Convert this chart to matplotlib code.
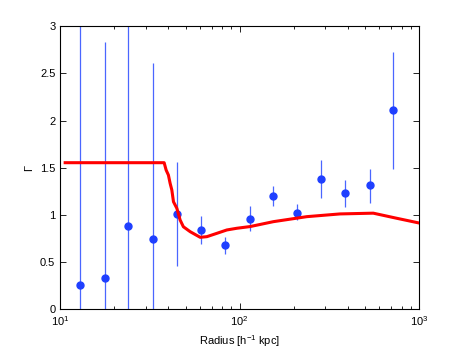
import numpy as np
import matplotlib
matplotlib.use('Agg')
import matplotlib.pyplot as plt
from matplotlib.ticker import LogLocator, NullFormatter

plt.rcParams['font.family'] = ['Liberation Sans', 'DejaVu Sans']
plt.rcParams['mathtext.fontset'] = 'custom'
plt.rcParams['mathtext.rm'] = 'Liberation Sans'

# measured points with error bars
radius = [12.9, 17.7, 24.0, 32.7, 44.6, 60.8, 83.0, 113.6, 153.8, 210.0, 286.0, 389.0, 531.0, 720.0]
gamma = [0.26, 0.335, 0.88, 0.74, 1.01, 0.84, 0.68, 0.96, 1.20, 1.025, 1.38, 1.23, 1.315, 2.11]
gamma_hi = [3.3, 2.83, 3.3, 2.61, 1.56, 0.99, 0.77, 1.09, 1.31, 1.11, 1.58, 1.37, 1.49, 2.73]
gamma_lo = [-0.5, -0.5, -0.5, -0.5, 0.46, 0.69, 0.59, 0.83, 1.09, 0.95, 1.18, 1.08, 1.13, 1.49]

# model curve
model_r = [10.66, 37.97, 38.95, 40.1, 41.0, 41.9, 42.8, 44.7, 46.6, 48.6, 53.0, 60.3, 65.7,
           74.6, 84.9, 96.5, 114.4, 154.3, 236.8, 363.0, 556.0, 751.0, 1000.0]
model_g = [1.553, 1.553, 1.475, 1.422, 1.334, 1.264, 1.139, 1.069, 0.946, 0.874, 0.822, 0.762,
           0.769, 0.804, 0.840, 0.858, 0.876, 0.928, 0.981, 1.010, 1.018, 0.964, 0.914]

fig = plt.figure(figsize=(4.63, 3.49), dpi=100)
ax = fig.add_axes([0.13, 0.114, 0.775, 0.811])

g = np.array(gamma)
yerr = [g - np.array(gamma_lo), np.array(gamma_hi) - g]
ax.errorbar(radius, gamma, yerr=yerr, fmt='o', color='#1f3fff', ecolor='#4a66ff',
            elinewidth=0.9, markersize=5, capsize=0, zorder=2)
ax.plot(model_r, model_g, color='#ff0000', linewidth=2.2, zorder=3)

ax.set_xscale('log')
ax.set_xlim(10, 1000)
ax.set_ylim(0, 3)
ax.set_yticks([0, 0.5, 1, 1.5, 2, 2.5, 3])
ax.set_yticklabels(['0', '0.5', '1', '1.5', '2', '2.5', '3'])
ax.xaxis.set_minor_locator(LogLocator(base=10, subs=np.arange(2, 10)))
ax.xaxis.set_minor_formatter(NullFormatter())
ax.tick_params(which='both', direction='in', top=True, right=True, labelsize=8)
ax.tick_params(which='major', length=4, width=0.6)
ax.tick_params(which='minor', length=2.5, width=0.6)
for s in ax.spines.values():
    s.set_linewidth(0.8)

ax.set_xlabel('Radius [h$^{-1}$ kpc]', fontsize=8)
ax.set_ylabel('Γ', fontsize=8)

fig.savefig('out.png', dpi=100)
plt.close()
